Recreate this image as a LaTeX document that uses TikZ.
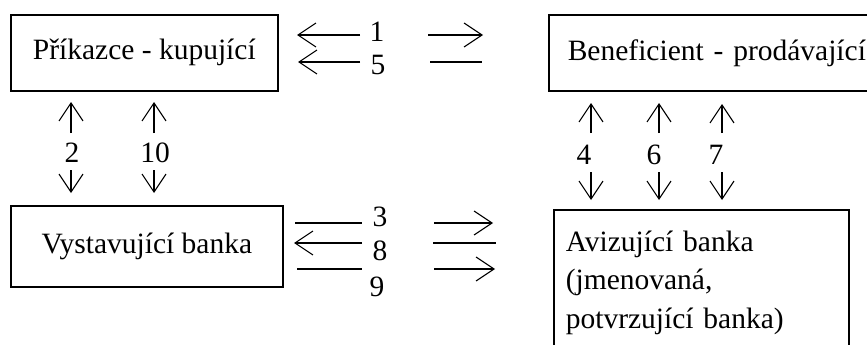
\documentclass[tikz,border=0pt]{standalone}
\usepackage{fontspec}
\setmainfont{Liberation Serif}
\usetikzlibrary{arrows.meta}
\begin{document}
\begin{tikzpicture}[x=1pt,y=-1pt,
  box/.style={draw, line width=1.6pt, anchor=north west, inner sep=0pt,
    font=\fontsize{29.5}{38.5}\selectfont},
  num/.style={inner sep=0pt, font=\fontsize{29.5}{36}\selectfont},
  flow/.style={line width=1.3pt, -{Straight Barb[length=18pt,width=24pt,line width=1.1pt]}},
  bar/.style={line width=1.3pt}]
\useasboundingbox (0,0) rectangle (867,345);
\clip (0,0) rectangle (867,345);

% boxes
\node[box, minimum width=267pt, minimum height=76pt] (pk) at (10,14) {Příkazce - kupující};
\node[box, minimum height=76pt, text width=300pt, align=left, inner xsep=19pt] (bp) at (548,14) {Beneficient - prodávající};
\node[box, minimum width=272pt, minimum height=81pt] (vb) at (10,205) {Vystavující banka};
\node[box, minimum height=146pt, text width=271pt, align=left, inner xsep=12pt] (ab) at (553,209)
  {Avizující banka\\(jmenovaná,\\potvrzující banka)};

% labels
\node[num] (n1) at (377,32) {1};
\node[num] (n5) at (378,65) {5};
\node[num] (n3) at (380,217) {3};
\node[num] (n8) at (380,251) {8};
\node[num] (n9) at (377,287) {9};
\node[num] (n2) at (72,153) {2};
\node[num] (n10) at (155,153) {10};
\node[num] (n4) at (584,155) {4};
\node[num] (n6) at (654,155) {6};
\node[num] (n7) at (716,155) {7};

% arrow end points
\coordinate (a1s) at (360,35);  \coordinate (a1e) at (297,35);
\coordinate (b1s) at (428,35);  \coordinate (b1e) at (483,35);
\coordinate (a5s) at (360,62);  \coordinate (a5e) at (298,62);
\coordinate (b5s) at (430,62);  \coordinate (b5e) at (482,62);
\coordinate (a3s) at (295,223); \coordinate (a3e) at (362,223);
\coordinate (b3s) at (434,223); \coordinate (b3e) at (493,223);
\coordinate (a8s) at (362,243); \coordinate (a8e) at (294,243);
\coordinate (b8s) at (433,243); \coordinate (b8e) at (496,243);
\coordinate (a9s) at (297,269); \coordinate (a9e) at (362,269);
\coordinate (b9s) at (434,269); \coordinate (b9e) at (495,269);

\coordinate (u2s) at (71,133);  \coordinate (u2e) at (71,102);
\coordinate (d2s) at (71,170);  \coordinate (d2e) at (71,193);
\coordinate (u10s) at (154,133); \coordinate (u10e) at (154,102);
\coordinate (d10s) at (154,170); \coordinate (d10e) at (154,193);
\coordinate (u4s) at (591,133); \coordinate (u4e) at (591,103);
\coordinate (d4s) at (591,172); \coordinate (d4e) at (591,200);
\coordinate (u6s) at (659,133); \coordinate (u6e) at (659,103);
\coordinate (d6s) at (659,172); \coordinate (d6e) at (659,200);
\coordinate (u7s) at (722,133); \coordinate (u7e) at (722,104);
\coordinate (d7s) at (722,172); \coordinate (d7e) at (722,200);

% horizontal arrows
\draw[flow] (a1s) -- (a1e);
\draw[flow] (b1s) -- (b1e);
\draw[flow] (a5s) -- (a5e);
\draw[bar]  (b5s) -- (b5e);
\draw[bar]  (a3s) -- (a3e);
\draw[flow] (b3s) -- (b3e);
\draw[flow] (a8s) -- (a8e);
\draw[bar]  (b8s) -- (b8e);
\draw[bar]  (a9s) -- (a9e);
\draw[flow] (b9s) -- (b9e);

% vertical arrows
\foreach \k in {2,10,4,6,7} {
  \draw[flow] (u\k s) -- (u\k e);
  \draw[flow] (d\k s) -- (d\k e);
}
\end{tikzpicture}
\end{document}
